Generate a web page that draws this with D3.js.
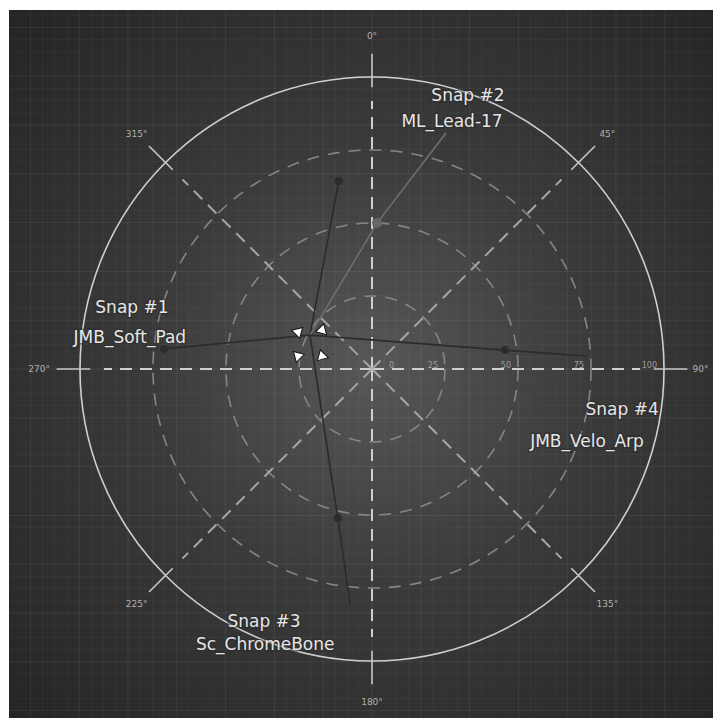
<!DOCTYPE html>
<html><head><meta charset="utf-8">
<script src="https://cdn.jsdelivr.net/npm/d3@7"></script>
<style>html,body{margin:0;padding:0;background:#fff;} svg{display:block;}</style>
</head><body>
<svg id="chart" width="713" height="718"></svg>
<script>
// ---- data ----
const angleTicks = [0, 45, 90, 135, 180, 225, 270, 315];
const angleTickLabels = ["0°", "45°", "90°", "135°", "180°", "225°", "270°", "315°"];
const radialTicks = [0, 25, 50, 75, 100];
const radialTickLabels = ["0", "25", "50", "75", "100"];
const snapNames = ["Snap #1", "Snap #2", "Snap #3", "Snap #4"];
const snapPresets = ["JMB_Soft_Pad", "ML_Lead-17", "Sc_ChromeBone", "JMB_Velo_Arp"];
const snapNameAngles = [283.1, 19.7, 202.7, 100.4];
const snapNameRadii = [84.4, 97.5, 95.8, 87.1];
const snapPresetAngles = [276.1, 18.3, 200.8, 109.9];
const snapPresetRadii = [83.4, 87.3, 103.0, 78.3];
const cursorAngle = 298.7, cursorRadius = 24.2;
const traceDotAngles = [275.5, 350, 2, 81.9, 192.9];
const traceDotRadii = [71.6, 65.4, 50, 46, 52.4];
const traceEndAngles = [275.5, 350, 17.4, 86.6, 185.3];
const traceEndRadii = [71.6, 65.4, 84.7, 74, 81];

// ---- layout ----
const W = 713, H = 718;
const cx = 372, cy = 369;
const svg = d3.select("#chart");
const r = d3.scaleLinear().domain([0, 100]).range([0, 292]);
const pt = (a, v) => [cx + r(v) * Math.sin(a * Math.PI / 180), cy - r(v) * Math.cos(a * Math.PI / 180)];

const defs = svg.append("defs");
const grad = defs.append("radialGradient").attr("id", "bg")
  .attr("gradientUnits", "userSpaceOnUse").attr("cx", cx).attr("cy", cy).attr("r", 500);
grad.append("stop").attr("offset", "0%").attr("stop-color", "#575757");
grad.append("stop").attr("offset", "45%").attr("stop-color", "#3a3a3a");
grad.append("stop").attr("offset", "100%").attr("stop-color", "#252525");

svg.append("rect").attr("x", 9).attr("y", 10).attr("width", W - 9).attr("height", H - 10).attr("fill", "url(#bg)");

// fine grid texture
const grid = svg.append("g").attr("stroke", "#fff").attr("stroke-width", 1);
const step = 12.2;
for (let k = -30; k <= 30; k++) {
  const x = cx + k * step;
  if (x > 9 && x < W) grid.append("line").attr("x1", x).attr("x2", x).attr("y1", 10).attr("y2", H)
    .attr("stroke-opacity", k % 4 === 0 ? 0.07 : 0.035);
  const y = cy + k * step;
  if (y > 10 && y < H) grid.append("line").attr("y1", y).attr("y2", y).attr("x1", 9).attr("x2", W)
    .attr("stroke-opacity", k % 4 === 0 ? 0.07 : 0.035);
}

// dashed rings
svg.append("g").selectAll("circle").data(radialTicks.filter(d => d > 0 && d < 100)).join("circle")
  .attr("cx", cx).attr("cy", cy).attr("r", d => r(d))
  .attr("fill", "none").attr("stroke", "#858585").attr("stroke-width", 1.6).attr("stroke-dasharray", "12,9");
// outer ring
svg.append("circle").attr("cx", cx).attr("cy", cy).attr("r", r(100))
  .attr("fill", "none").attr("stroke", "#cfcfcf").attr("stroke-width", 1.6);

// angle axes
const axes = svg.append("g");
axes.selectAll("line.dash").data(angleTicks).join("line").attr("class", "dash")
  .attr("x1", cx).attr("y1", cy)
  .attr("x2", d => pt(d, 91.8)[0]).attr("y2", d => pt(d, 91.8)[1])
  .attr("stroke", d => d % 90 === 0 ? "#cfcfcf" : "#a5a5a5")
  .attr("stroke-width", 2).attr("stroke-dasharray", "12,8");
axes.selectAll("line.tick").data(angleTicks).join("line").attr("class", "tick")
  .attr("x1", d => pt(d, 96.5)[0]).attr("y1", d => pt(d, 96.5)[1])
  .attr("x2", d => pt(d, 108)[0]).attr("y2", d => pt(d, 108)[1])
  .attr("stroke", "#c8c8c8").attr("stroke-width", 1.6);
axes.selectAll("text").data(angleTicks).join("text")
  .attr("x", d => pt(d, d === 90 ? 112.5 : 114)[0]).attr("y", d => pt(d, 114)[1])
  .attr("text-anchor", "middle").attr("dominant-baseline", "central")
  .attr("font-family", "DejaVu Sans, sans-serif").attr("font-size", 9).attr("fill", "#b0b0b0")
  .text((d, i) => angleTickLabels[i]);

// radial tick labels
svg.append("g").selectAll("text").data(radialTicks).join("text")
  .attr("x", d => d === 0 ? cx + 17 : cx + r(d) - 7)
  .attr("y", cy - 1)
  .attr("text-anchor", d => d === 0 ? "start" : "end")
  .attr("font-family", "DejaVu Sans, sans-serif").attr("font-size", 8).attr("fill", "#a0a0a0")
  .text((d, i) => radialTickLabels[i]);

// traces from cursor
const cursorPt = pt(cursorAngle, cursorRadius);
const line = d3.line();
const traces = traceEndAngles.map((a, i) => [cursorPt, pt(traceDotAngles[i], traceDotRadii[i]), pt(a, traceEndRadii[i])]);
svg.append("g").selectAll("path").data(traces).join("path")
  .attr("d", d => line(d)).attr("fill", "none")
  .attr("stroke", (d, i) => i === 2 ? "#6e6e6e" : "#2c2c2c")
  .attr("stroke-width", (d, i) => i === 2 ? 1.6 : 1.7);
svg.append("g").selectAll("circle").data(traceDotAngles).join("circle")
  .attr("cx", (d, i) => pt(d, traceDotRadii[i])[0]).attr("cy", (d, i) => pt(d, traceDotRadii[i])[1])
  .attr("r", (d, i) => i === 2 ? 5 : 4)
  .attr("fill", (d, i) => i === 2 ? "#666" : "#2c2c2c");

// cursor markers (around the cursor point)
const offsets = [[-12, -3, 45], [12, -5, 135], [-12, 21, -45], [12, 21, -135]];
svg.append("g").selectAll("path").data(offsets).join("path")
  .attr("d", d3.symbol(d3.symbolTriangle).size(55))
  .attr("transform", d => `translate(${cursorPt[0] + d[0]},${cursorPt[1] + d[1]}) rotate(${d[2]})`)
  .attr("fill", "#ffffff").attr("stroke", "#111").attr("stroke-width", 1);

// snap labels
const lab = svg.append("g").attr("font-family", "DejaVu Sans, sans-serif").attr("font-size", 17)
  .attr("fill", "#e6e6e6").attr("text-anchor", "middle")
  .attr("stroke", "#2a2a2a").attr("stroke-opacity", 0.5).attr("stroke-width", 3).attr("paint-order", "stroke");
lab.selectAll("text.name").data(snapNames).join("text").attr("class", "name")
  .attr("x", (d, i) => pt(snapNameAngles[i], snapNameRadii[i])[0])
  .attr("y", (d, i) => pt(snapNameAngles[i], snapNameRadii[i])[1])
  .text(d => d);
lab.selectAll("text.preset").data(snapPresets).join("text").attr("class", "preset")
  .attr("x", (d, i) => pt(snapPresetAngles[i], snapPresetRadii[i])[0])
  .attr("y", (d, i) => pt(snapPresetAngles[i], snapPresetRadii[i])[1])
  .text(d => d);
</script>
</body></html>
